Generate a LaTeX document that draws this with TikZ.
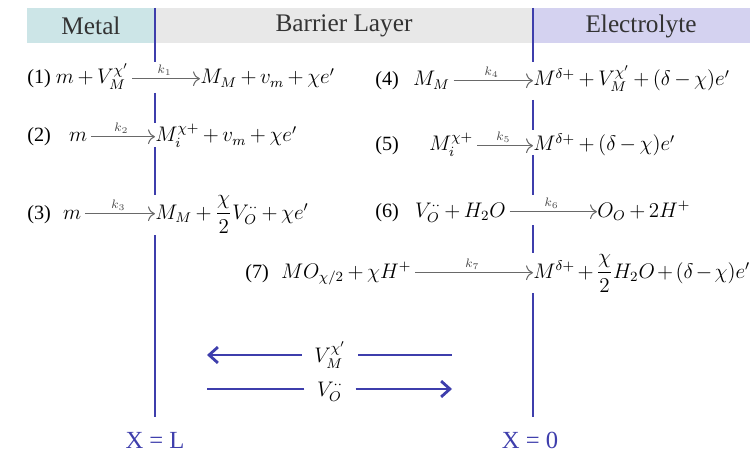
\documentclass[tikz,border=0pt]{standalone}
\usepackage{amsmath}
\usepackage{fontspec}
\setmainfont{Liberation Serif}
\usepackage{tikz}
\usetikzlibrary{arrows.meta}
\definecolor{metallo}{RGB}{204,229,231}
\definecolor{barriera}{RGB}{232,232,232}
\definecolor{elettrolita}{RGB}{212,210,240}
\definecolor{interfaccia}{RGB}{62,62,172}
\definecolor{freccia}{RGB}{105,105,105}
\newcommand\reazfont{\fontsize{11.5}{14}\selectfont\medmuskip=3mu\relax}

\begin{document}
\begin{tikzpicture}[>=Latex, x=0.02cm, y=-0.02cm,
  testa/.style={font=\fontsize{14.4}{16}\selectfont, text=black!80},
  reaz/.style={font=\reazfont, inner sep=0pt},
  rfreccia/.style={-{To[length=4pt]}, freccia, semithick, shorten <=2pt},
  kost/.style={above=1.5pt, font=\scriptsize, inner sep=0pt, text=black!70},
  flusso/.style={interfaccia, line width=1.6pt},
  asse/.style={text=interfaccia, font=\fontsize{14}{16}\selectfont}]
  \useasboundingbox (0,0) rectangle (756,459);

  % Bande in alto
  \fill[metallo] (27,8) rectangle (155,43);
  \fill[barriera] (155,8) rectangle (533,43);
  \fill[elettrolita] (533,8) rectangle (750,43);
  \node[testa] (metal) at (91,26) {Metal};
  \node[testa] (barr) at (344,26) {Barrier Layer};
  \node[testa] (elet) at (641,26) {Electrolyte};

  % Interfacce (interrotte dalle reazioni)
  \foreach \a/\b in {8/62, 93/123, 147/195, 235/417}
    \draw[flusso] (155,\a) -- (155,\b);
  \foreach \a/\b in {8/62, 100/130, 155/195, 225/253, 293/417}
    \draw[flusso] (533,\a) -- (533,\b);

  % Reazioni all'interfaccia metallo/film
  \node[reaz, anchor=base west] (r1a) at (27,84) {(1) $m+V_M^{\chi'}$};
  \node[reaz, anchor=base west] (r1b) at (200,84) {$M_M+v_m+\chi e'$};
  \draw[rfreccia] ([yshift=3pt]r1a.base east) -- node[kost] {$k_1$} ([yshift=3pt]r1b.base west);

  \node[reaz, anchor=base west] (r2a) at (27,142) {(2)\hspace{.9em}$m$};
  \node[reaz, anchor=base west] (r2b) at (155,142) {$M_i^{\chi+}+v_m+\chi e'$};
  \draw[rfreccia] ([yshift=3pt]r2a.base east) -- node[kost] {$k_2$} ([yshift=3pt]r2b.base west);

  \node[reaz, anchor=base west] (r3a) at (27,219) {(3)\hspace{.6em}$m$};
  \node[reaz, anchor=base west] (r3b) at (155,219) {$M_M+\dfrac{\chi}{2}V_O^{\cdot\cdot}+\chi e'$};
  \draw[rfreccia] ([yshift=3pt]r3a.base east) -- node[kost] {$k_3$} ([yshift=3pt]r3b.base west);

  % Reazioni all'interfaccia film/soluzione
  \node[reaz, anchor=base west] (r4a) at (375,86) {(4)\hspace{.7em}$M_M$};
  \node[reaz, anchor=base west] (r4b) at (533,86) {$M^{\delta+}+V_M^{\chi'}+(\delta-\chi)e'$};
  \draw[rfreccia] ([yshift=3pt]r4a.base east) -- node[kost] {$k_4$} ([yshift=3pt]r4b.base west);

  \node[reaz, anchor=base west] (r5a) at (375,151) {(5)\hspace{1.5em}$M_i^{\chi+}$};
  \node[reaz, anchor=base west] (r5b) at (533,151) {$M^{\delta+}+(\delta-\chi)e'$};
  \draw[rfreccia] ([yshift=3pt]r5a.base east) -- node[kost] {$k_5$} ([yshift=3pt]r5b.base west);

  \node[reaz, anchor=base west] (r6a) at (375,217) {(6)\hspace{.8em}$V_O^{\cdot\cdot}+H_2O$};
  \node[reaz, anchor=base west] (r6b) at (597,217) {$O_O+2H^+$};
  \draw[rfreccia] ([yshift=3pt]r6a.base east) -- node[kost] {$k_6$} ([yshift=3pt]r6b.base west);

  \node[reaz, anchor=base west] (r7a) at (245,278) {(7)\hspace{.6em}$MO_{\chi/2}+\chi H^+$};
  \node[reaz, anchor=base west] (r7b) at (533,278) {$\medmuskip=2mu M^{\delta+}+\dfrac{\chi}{2}H_2O+(\delta-\chi)e'$};
  \draw[rfreccia] ([yshift=3pt]r7a.base east) -- node[kost] {$k_7$} ([yshift=3pt]r7b.base west);

  % Flussi di vacanze
  \node[reaz, inner xsep=7pt] (vm) at (330,355) {$V_M^{\chi'}$};
  \node[reaz, inner xsep=7pt] (vo) at (330,392) {$V_O^{\cdot\cdot}$};
  \coordinate (vmS) at (207,355);
  \coordinate (vmD) at (452,355);
  \coordinate (voS) at (207,389);
  \coordinate (voD) at (452,389);
  \draw[flusso, -{Straight Barb[length=5pt, width=9pt]}] (vm.west |- vmS) -- (vmS);
  \draw[flusso] (vm.east |- vmD) -- (vmD);
  \draw[flusso] (vo.west |- voS) -- (voS);
  \draw[flusso, -{Straight Barb[length=5pt, width=9pt]}] (vo.east |- voD) -- (voD);

  % Posizioni
  \node[asse] (xL) at (155,440) {X = L};
  \node[asse] (x0) at (530,440) {X = 0};
\end{tikzpicture}
\end{document}
